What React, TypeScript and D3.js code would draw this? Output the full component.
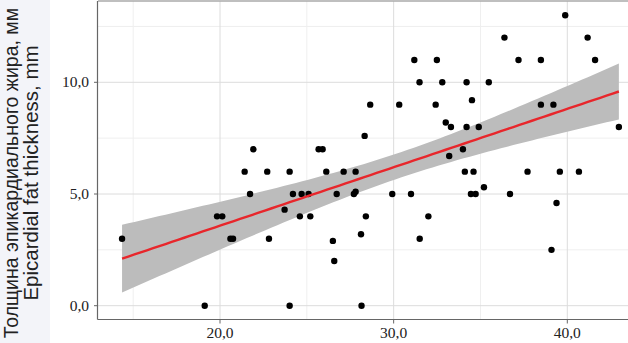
import React from "react";
import * as d3 from "d3";

const bmi: number[] = [
  14.36, 19.12, 19.83, 20.13, 20.6, 20.75, 21.42, 21.73, 21.92, 22.72,
  22.82, 23.72, 24.01, 24.01, 24.2, 24.6, 24.7, 25.1, 25.2, 25.68,
  25.91, 26.12, 26.5, 26.58, 26.72, 27.12, 27.71, 27.81, 27.81, 28.12,
  28.15, 28.33, 28.4, 28.65, 29.92, 30.32, 31.0, 31.19, 31.49, 31.5,
  32.0, 32.42, 32.49, 32.8, 33.0, 33.2, 33.3, 33.99, 34.1, 34.2,
  34.2, 34.45, 34.51, 34.6, 34.72, 34.9, 35.2, 35.48, 36.38, 36.7,
  37.19, 37.71, 38.48, 38.48, 39.09, 39.2, 39.38, 39.57, 39.88, 40.67,
  41.17, 41.6, 42.97,
];
const fat: number[] = [
  3.0, 0, 4, 4, 3, 3, 6, 5, 7, 6,
  3, 4.3, 6, 0, 5, 4, 5, 5, 4, 7,
  7, 6, 2.9, 2.0, 5, 6, 5, 5.1, 6, 3.2,
  0, 7.6, 4, 9, 5, 9, 5, 11, 10, 3,
  4, 9, 11, 10, 8.2, 6.7, 8, 7, 6, 10,
  8, 5, 9.2, 6, 5, 8, 5.3, 10, 12, 5,
  11, 6, 11, 9, 2.5, 9, 4.6, 6, 13, 6,
  12, 11, 8,
];

const xTicks: number[] = [20, 30, 40];
const xMinor: number[] = [15, 25, 35];
const yTicks: number[] = [0, 5, 10];
const yMinor: number[] = [2.5, 7.5, 12.5];
const yTitle: string[] = ["Толщина эпикардиального жира, мм", "Epicardial fat thickness, mm"];

const W = 628, H = 343;
const panel = { left: 98, right: 628, top: 1, bottom: 319.5 };

export default function App() {
  const x = d3.scaleLinear().domain([20, 40]).range([220, 567.3]);
  const y = d3.scaleLinear().domain([0, 10]).range([305.7, 82.3]);

  // OLS fit with 95% confidence band
  const n = bmi.length;
  const mx = d3.mean(bmi)!;
  const my = d3.mean(fat)!;
  let sxx = 0, sxy = 0;
  for (let i = 0; i < n; i++) {
    sxx += (bmi[i] - mx) ** 2;
    sxy += (bmi[i] - mx) * (fat[i] - my);
  }
  const b = sxy / sxx;
  const a = my - b * mx;
  let sse = 0;
  for (let i = 0; i < n; i++) sse += (fat[i] - (a + b * bmi[i])) ** 2;
  const s = Math.sqrt(sse / (n - 2));
  const t = 1.994;
  const [x0, x1] = d3.extent(bmi) as [number, number];
  const grid = d3.range(0, 81).map((k) => x0 + ((x1 - x0) * k) / 80);
  const band = grid.map((gx) => {
    const fit = a + b * gx;
    const se = s * Math.sqrt(1 / n + (gx - mx) ** 2 / sxx);
    return { gx, fit, lo: fit - t * se, hi: fit + t * se };
  });
  const area = d3
    .area<{ gx: number; lo: number; hi: number }>()
    .x((d) => x(d.gx))
    .y0((d) => y(d.lo))
    .y1((d) => y(d.hi));
  const line = d3
    .line<{ gx: number; fit: number }>()
    .x((d) => x(d.gx))
    .y((d) => y(d.fit));

  const serif = "'Liberation Serif', 'DejaVu Serif', serif";
  const sans = "'Liberation Sans', Arial, sans-serif";

  return (
    <div style={{ position: "fixed", left: 0, top: 0 }}>
      <svg width={W} height={H} style={{ display: "block", background: "#fff" }}>
        <defs>
          <clipPath id="panelClip">
            <rect x={panel.left} y={panel.top} width={panel.right - panel.left} height={panel.bottom - panel.top} />
          </clipPath>
        </defs>
        <rect x={0} y={0} width={50} height={H} fill="#f3f4f9" />
        <g clipPath="url(#panelClip)">
          {xMinor.map((v) => (
            <line key={"xm" + v} x1={x(v)} x2={x(v)} y1={panel.top} y2={panel.bottom} stroke="#efefef" strokeWidth={1} />
          ))}
          {yMinor.map((v) => (
            <line key={"ym" + v} x1={panel.left} x2={panel.right} y1={y(v)} y2={y(v)} stroke="#efefef" strokeWidth={1} />
          ))}
          {xTicks.map((v) => (
            <line key={"xg" + v} x1={x(v)} x2={x(v)} y1={panel.top} y2={panel.bottom} stroke="#dcdcdc" strokeWidth={1} />
          ))}
          {yTicks.map((v) => (
            <line key={"yg" + v} x1={panel.left} x2={panel.right} y1={y(v)} y2={y(v)} stroke="#dcdcdc" strokeWidth={1} />
          ))}
          <path d={area(band) || ""} fill="#bcbcbc" />
          {bmi.map((v, i) => (
            <circle key={i} cx={x(v)} cy={y(fat[i])} r={3.2} fill="#000" />
          ))}
          <path d={line(band) || ""} fill="none" stroke="#e8262b" strokeWidth={2.4} />
        </g>
        <line x1={panel.left} x2={panel.right} y1={panel.top} y2={panel.top} stroke="#aaa" strokeWidth={1.5} />
        <line x1={panel.left - 0.5} x2={panel.left - 0.5} y1={panel.top} y2={panel.bottom} stroke="#666" strokeWidth={1.2} />
        <line x1={panel.left - 0.5} x2={panel.right} y1={panel.bottom} y2={panel.bottom} stroke="#666" strokeWidth={1.2} />
        {xTicks.map((v) => (
          <g key={"xt" + v}>
            <line x1={x(v)} x2={x(v)} y1={panel.bottom} y2={panel.bottom + 4} stroke="#666" />
            <text x={x(v)} y={338} textAnchor="middle" fontFamily={serif} fontSize={15.5} fill="#222">
              {d3.format(".1f")(v).replace(".", ",")}
            </text>
          </g>
        ))}
        {yTicks.map((v) => (
          <g key={"yt" + v}>
            <line x1={panel.left - 4} x2={panel.left} y1={y(v)} y2={y(v)} stroke="#666" />
            <text x={89} y={y(v) + 5} textAnchor="end" fontFamily={serif} fontSize={15.5} fill="#222">
              {d3.format(".1f")(v).replace(".", ",")}
            </text>
          </g>
        ))}
        {yTitle.map((tx, i) => (
          <text
            key={tx}
            transform={`translate(${18 + i * 20},173) rotate(-90)`}
            textAnchor="middle"
            fontFamily={sans}
            fontSize={i === 0 ? 19.5 : 20.5}
            fill="#222"
          >
            {tx}
          </text>
        ))}
      </svg>
    </div>
  );
}
